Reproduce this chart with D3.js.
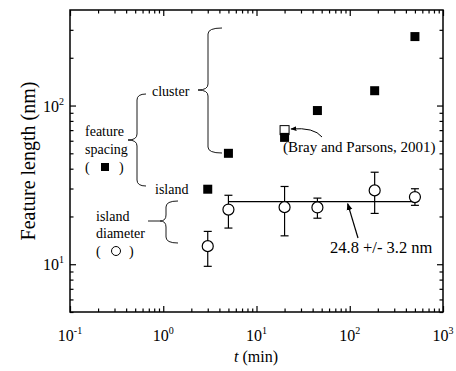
<!DOCTYPE html>
<html lang="en">
<head>
  <meta charset="UTF-8">
  <title>Feature length vs time</title>
  <style>
    body { margin: 0; background: #fff; }
    .frame { fill: none; stroke: #000; stroke-width: 1.5; }
    .axis path { display: none; }
    .axis line { stroke: #000; stroke-width: 1.2; }
    .note { fill: #000; }
    .brace { fill: none; stroke: #000; stroke-width: 0.9; }
  </style>
</head>
<body>
  <svg width="456" height="371"></svg>
  <script src="https://cdn.jsdelivr.net/npm/d3@7"></script>
  <script>
    // data
    var spacingT = [3, 5, 20, 45, 185, 500]
    var spacingNm = [29.7, 50, 63, 93, 124, 272]
    var diamT = [3, 5, 20, 45, 185, 500]
    var diamNm = [13.0, 22.1, 22.9, 22.8, 29.2, 26.5]
    var diamLo = [9.7, 16.9, 15.1, 19.5, 20.9, 23.5]
    var diamHi = [16.1, 27.2, 30.9, 26.1, 38.0, 29.9]
    var brayT = [20]
    var brayNm = [70]
    var fitT = [5, 500]
    var fitNm = 24.8
    var xDecades = [0.1, 1, 10, 100, 1000]
    var xDecadeExp = ['-1', '0', '1', '2', '3']
    var yDecades = [10, 100]
    var yDecadeExp = ['1', '2']

    var svg = d3.select('svg')
    var mLeft = 70, mRight = 443, mTop = 10, mBottom = 312
    var serif = "'Liberation Serif', 'DejaVu Serif', serif"

    var x = d3.scaleLog().domain([0.1, 1000]).range([mLeft, mRight])
    var y = d3.scaleLog().domain([5, 400]).range([mBottom, mTop])

    // minor ticks 2..9 of each decade
    var xMinor = []
    for (var dx = 0; dx < 4; dx++) {
      for (var k = 2; k <= 9; k++) xMinor.push(xDecades[dx] * k)
    }
    var yMinor = [5, 6, 7, 8, 9, 20, 30, 40, 50, 60, 70, 80, 90, 200, 300]

    function ticks(axisFn, scale, vals, len, pos) {
      svg.append('g')
        .attr('class', 'axis')
        .attr('transform', pos)
        .call(axisFn(scale).tickValues(vals).tickSize(-len).tickFormat(''))
    }
    ticks(d3.axisBottom, x, xDecades, 6, 'translate(0,' + mBottom + ')')
    ticks(d3.axisBottom, x, xMinor, 3.5, 'translate(0,' + mBottom + ')')
    ticks(d3.axisTop, x, xDecades, 6, 'translate(0,' + mTop + ')')
    ticks(d3.axisTop, x, xMinor, 3.5, 'translate(0,' + mTop + ')')
    ticks(d3.axisLeft, y, yDecades, 6, 'translate(' + mLeft + ',0)')
    ticks(d3.axisLeft, y, yMinor, 3.5, 'translate(' + mLeft + ',0)')
    ticks(d3.axisRight, y, yDecades, 6, 'translate(' + mRight + ',0)')
    ticks(d3.axisRight, y, yMinor, 3.5, 'translate(' + mRight + ',0)')

    svg.append('rect')
      .attr('class', 'frame')
      .attr('x', mLeft).attr('y', mTop)
      .attr('width', mRight - mLeft).attr('height', mBottom - mTop)

    // decade labels 10^n
    xDecades.forEach(function(v, i) {
      var t = svg.append('text')
        .attr('x', x(v))
        .attr('y', 341)
        .attr('text-anchor', 'middle')
        .attr('font-family', serif)
        .attr('font-size', '16px')
      t.append('tspan').text('10')
      t.append('tspan').attr('dy', -7).attr('font-size', '10px').text(xDecadeExp[i])
    })
    yDecades.forEach(function(v, i) {
      var t = svg.append('text')
        .attr('x', 43)
        .attr('y', y(v) + 6)
        .attr('font-family', serif)
        .attr('font-size', '16px')
      t.append('tspan').text('10')
      t.append('tspan').attr('dy', -7).attr('font-size', '10px').text(yDecadeExp[i])
    })

    // axis titles
    var xt = svg.append('text')
      .attr('x', 256).attr('y', 362)
      .attr('text-anchor', 'middle')
      .attr('font-family', serif)
      .attr('font-size', '16px')
    xt.append('tspan').attr('font-style', 'italic').text('t')
    xt.append('tspan').text(' (min)')

    svg.append('text')
      .attr('transform', 'translate(35,161) rotate(-90)')
      .attr('text-anchor', 'middle')
      .attr('font-family', serif)
      .attr('font-size', '20px')
      .text('Feature length (nm)')

    // fit line
    svg.append('line')
      .attr('x1', x(fitT[0])).attr('x2', x(fitT[1]))
      .attr('y1', y(fitNm)).attr('y2', y(fitNm))
      .attr('stroke', '#000').attr('stroke-width', 1.3)

    // error bars
    var diam = diamT.map(function(t, i) {
      return { t: t, v: diamNm[i], lo: diamLo[i], hi: diamHi[i] }
    })
    var eb = svg.append('g').attr('stroke', '#000').attr('stroke-width', 1.2)
    diam.forEach(function(d) {
      eb.append('line').attr('x1', x(d.t)).attr('x2', x(d.t)).attr('y1', y(d.lo)).attr('y2', y(d.hi))
      eb.append('line').attr('x1', x(d.t) - 4).attr('x2', x(d.t) + 4).attr('y1', y(d.lo)).attr('y2', y(d.lo))
      eb.append('line').attr('x1', x(d.t) - 4).attr('x2', x(d.t) + 4).attr('y1', y(d.hi)).attr('y2', y(d.hi))
    })

    svg.selectAll('.diam')
      .data(diam)
      .enter()
      .append('circle')
      .attr('class', 'diam')
      .attr('cx', function(d) { return x(d.t) })
      .attr('cy', function(d) { return y(d.v) })
      .attr('r', 5.5)
      .attr('fill', '#fff')
      .attr('stroke', '#000')
      .attr('stroke-width', 1.2)

    // Bray and Parsons point (open square), drawn under the filled one
    var sq = 9
    svg.selectAll('.bray')
      .data(brayT)
      .enter()
      .append('rect')
      .attr('class', 'bray')
      .attr('x', function(d) { return x(d) - sq / 2 })
      .attr('y', function(d, i) { return y(brayNm[i]) - sq / 2 })
      .attr('width', sq).attr('height', sq)
      .attr('fill', '#fff').attr('stroke', '#000').attr('stroke-width', 1)

    svg.selectAll('.spacing')
      .data(spacingT)
      .enter()
      .append('rect')
      .attr('class', 'spacing')
      .attr('x', function(d) { return x(d) - sq / 2 })
      .attr('y', function(d, i) { return y(spacingNm[i]) - sq / 2 })
      .attr('width', sq).attr('height', sq)
      .attr('fill', '#000')

    // annotations
    function note(tx, ty, s, size) {
      return svg.append('text').attr('class', 'note')
        .attr('font-family', serif)
        .attr('font-size', (size || 14) + 'px')
        .attr('x', tx).attr('y', ty).text(s)
    }
    note(85, 136, 'feature')
    note(85, 154, 'spacing')
    note(85, 172, '(')
    note(119, 172, ')')
    svg.append('rect').attr('x', 101).attr('y', 163).attr('width', 8).attr('height', 8).attr('fill', '#000')
    note(152, 96, 'cluster')
    note(155, 194, 'island')
    note(96, 221, 'island')
    note(96, 238, 'diameter')
    note(96, 256, '(')
    note(129, 256, ')')
    svg.append('circle').attr('cx', 116).attr('cy', 251).attr('r', 4.5)
      .attr('fill', '#fff').attr('stroke', '#000').attr('stroke-width', 1)
    note(283, 152, '(Bray and Parsons, 2001)', 15)
    note(330, 253, '24.8 +/- 3.2 nm', 16.5)

    // "{" brace with its point on the left
    function brace(bx, y0, ym, y1, tip, point) {
      var r = 6
      var p = 'M' + (bx + tip) + ',' + y0 +
        ' Q' + bx + ',' + y0 + ' ' + bx + ',' + (y0 + r) +
        ' L' + bx + ',' + (ym - r) +
        ' Q' + bx + ',' + ym + ' ' + (bx - point) + ',' + ym +
        ' Q' + bx + ',' + ym + ' ' + bx + ',' + (ym + r) +
        ' L' + bx + ',' + (y1 - r) +
        ' Q' + bx + ',' + y1 + ' ' + (bx + tip) + ',' + y1
      svg.append('path').attr('class', 'brace').attr('d', p)
    }
    brace(137, 94, 140, 186, 9, 9)
    brace(208, 28, 90, 153, 14, 10)
    brace(166, 201, 221, 243, 12, 6)
    svg.append('line').attr('class', 'brace')
      .attr('x1', 148).attr('x2', 160).attr('y1', 221).attr('y2', 221)

    // arrows
    svg.append('defs').append('marker')
      .attr('id', 'ah').attr('viewBox', '0 0 10 10')
      .attr('refX', 9).attr('refY', 5)
      .attr('markerWidth', 6).attr('markerHeight', 6)
      .attr('orient', 'auto')
      .append('path').attr('d', 'M0,1 L10,5 L0,9 z').attr('fill', '#000')

    svg.append('path')
      .attr('d', 'M322,137 Q314,127 291,129')
      .attr('fill', 'none').attr('stroke', '#000').attr('stroke-width', 1)
      .attr('marker-end', 'url(#ah)')
    svg.append('line')
      .attr('x1', 358).attr('y1', 238).attr('x2', x(95)).attr('y2', y(fitNm) + 2)
      .attr('stroke', '#000').attr('stroke-width', 1.2)
      .attr('marker-end', 'url(#ah)')
  </script>
</body>
</html>
